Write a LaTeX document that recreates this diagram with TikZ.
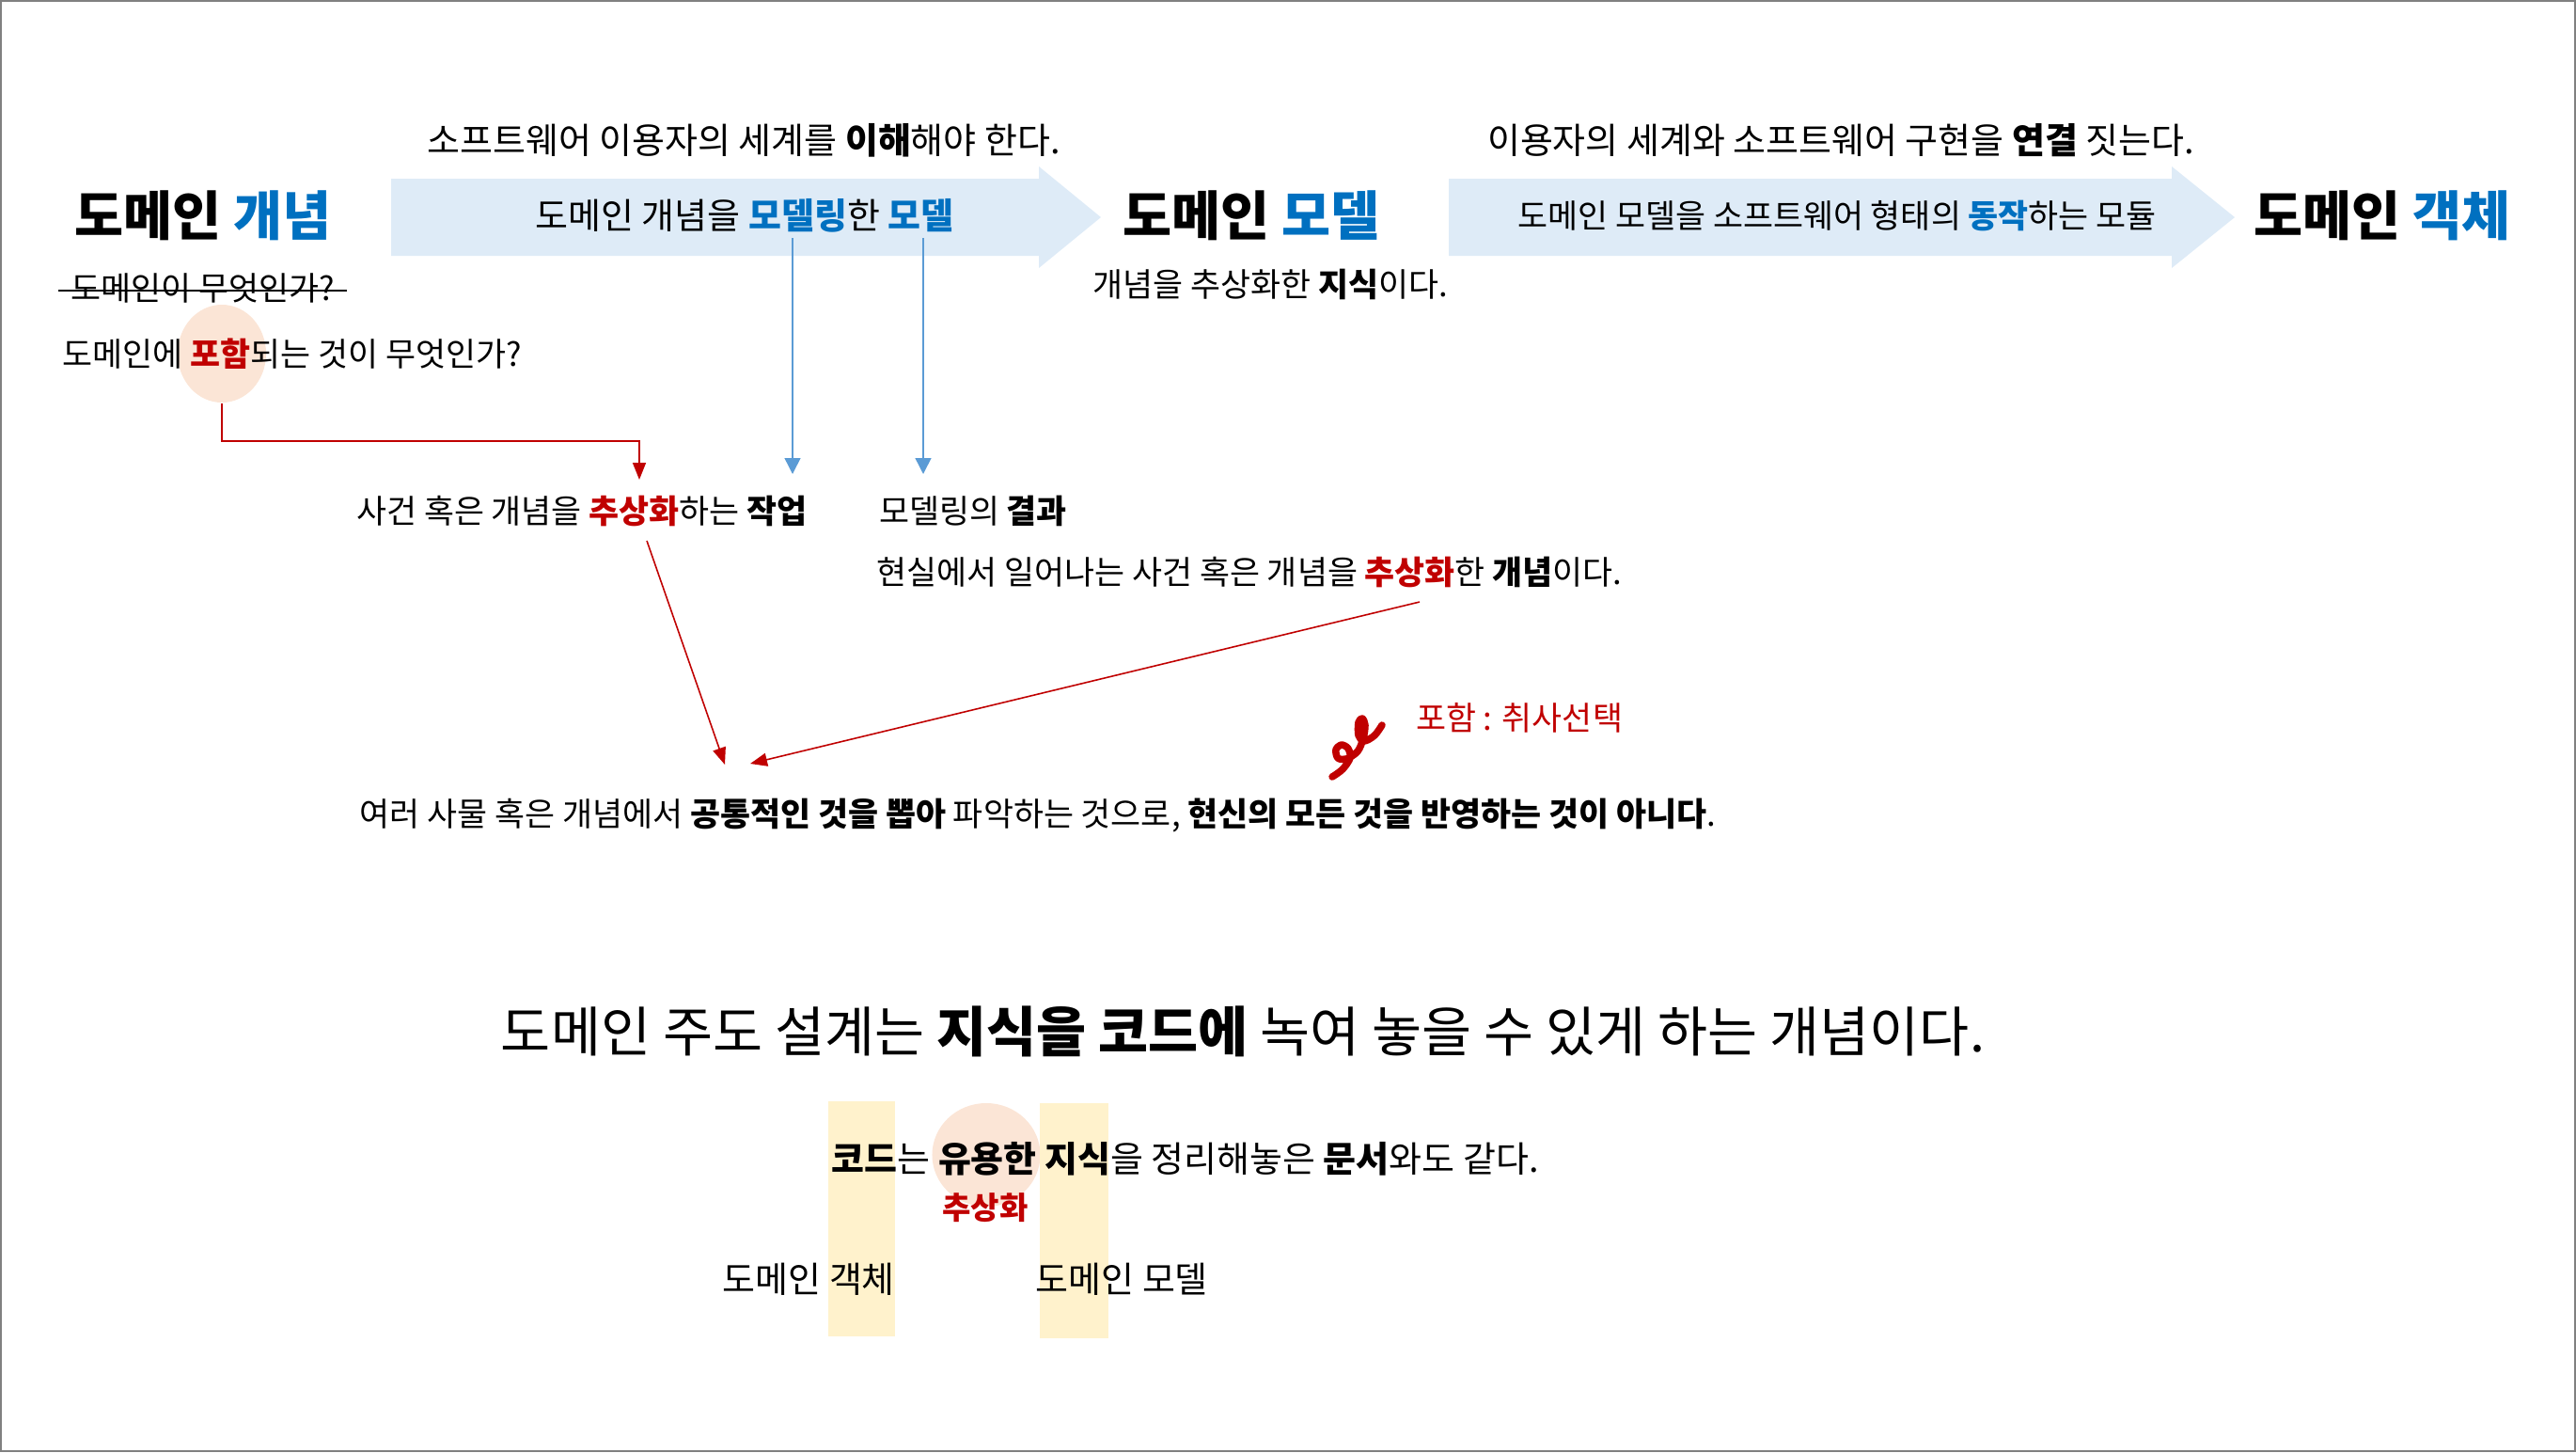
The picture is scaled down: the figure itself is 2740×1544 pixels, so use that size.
\documentclass[tikz,border=0pt]{standalone}
\usepackage{fontspec}
\setmainfont{Noto Sans CJK KR}
\usetikzlibrary{arrows.meta,shapes.geometric,calc}

\definecolor{dblue}{HTML}{0070C0}
\definecolor{dred}{HTML}{C00000}
\definecolor{abody}{HTML}{DEEBF7}
\definecolor{peach}{HTML}{FBE5D6}
\definecolor{ylw}{HTML}{FFF2CC}
\definecolor{lnblue}{HTML}{5B9BD5}

\newcommand{\hlblue}[1]{\textcolor{dblue}{\textbf{#1}}}
\newcommand{\hlred}[1]{\textcolor{dred}{\textbf{#1}}}

\tikzset{
  lbl/.style={font=\fontsize{9.9}{12}\selectfont, inner sep=0pt},
  captxt/.style={font=\fontsize{10.8}{13}\selectfont, inner sep=0pt},
  ttl/.style={font=\fontsize{16.1}{19}\selectfont\bfseries, inner sep=0pt},
  bigtxt/.style={font=\fontsize{16.4}{19}\selectfont, inner sep=0pt},
  barrow/.style={lnblue, line width=0.4pt, -{Triangle[length=0.17cm, width=0.17cm]}},
  rarrow/.style={dred, line width=0.45pt, -{Triangle[length=0.18cm, width=0.14cm]}},
}

\begin{document}
\begin{tikzpicture}[x=0.01cm, y=-0.01cm]
    \useasboundingbox (0,0) rectangle (2740,1544);
    \draw[gray, line width=0.02cm] (1,1) rectangle (2739,1543);

    % Fleches
    \fill[abody] (416,190) -- (1105,190) -- (1105,177) -- (1171,231)
        -- (1105,285) -- (1105,272) -- (416,272) -- cycle;
    \fill[abody] (1541,190) -- (2310,190) -- (2310,177) -- (2377,231)
        -- (2310,285) -- (2310,272) -- (1541,272) -- cycle;

    % Fonds
    \node[ellipse, fill=peach, minimum width=0.94cm, minimum height=1.04cm, inner sep=0pt] (incl) at (236,376) {};
    \node[ellipse, fill=peach, minimum width=1.15cm, minimum height=1.1cm, inner sep=0pt] (useful) at (1049,1228) {};
    \fill[ylw] (881,1171) rectangle (952,1421);
    \fill[ylw] (1106,1173) rectangle (1179,1423);

    % Titres
    \node[ttl] (concept) at (216,229) {도메인 \textcolor{dblue}{개념}};
    \node[ttl] (model) at (1331,229) {도메인 \textcolor{dblue}{모델}};
    \node[ttl] (object) at (2534,229) {도메인 \textcolor{dblue}{객체}};

    \node[captxt] (understand) at (791,149) {소프트웨어 이용자의 세계를 \textbf{이해}해야 한다.};
    \node[captxt] (connect) at (1958,149) {이용자의 세계와 소프트웨어 구현을 \textbf{연결} 짓는다.};
    \node[captxt] (modeling) at (792,229) {도메인 개념을 \hlblue{모델링}한 \hlblue{모델}};
    \node[lbl] (module) at (1954,229) {도메인 모델을 소프트웨어 형태의 \hlblue{동작}하는 모듈};

    % Textes
    \node[lbl] (strk) at (216,306) {도메인이 무엇인가?};
    \draw[line width=0.4pt] ($(strk.west)+(-13,3)$) -- ($(strk.east)+(12,3)$);
    \node[lbl, anchor=west] (question) at (66,376) {도메인에 \hlred{포함}되는 것이 무엇인가?};
    \node[lbl] (knowledge) at (1351,302) {개념을 추상화한 \textbf{지식}이다.};

    \node[lbl] (task) at (619,543) {사건 혹은 개념을 \hlred{추상화}하는 \textbf{작업}};
    \node[lbl] (result) at (1035,543) {모델링의 \textbf{결과}};
    \node[lbl] (reality) at (1329,608) {현실에서 일어나는 사건 혹은 개념을 \hlred{추상화}한 \textbf{개념}이다.};
    \node[lbl, text=dred] (choice) at (1616,763) {포함 : 취사선택};
    \node[lbl] (common) at (1104,867) {여러 사물 혹은 개념에서 \textbf{공통적인 것을 뽑아} 파악하는 것으로, \textbf{현신의 모든 것을 반영하는 것이 아니다}.};

    \node[bigtxt] (ddd) at (1322,1097) {도메인 주도 설계는 \textbf{지식을 코드에} 녹여 놓을 수 있게 하는 개념이다.};
    \node[captxt, anchor=west] (doc) at (884,1232) {\textbf{코드}는 \textbf{유용한} \textbf{지식}을 정리해놓은 \textbf{문서}와도 같다.};
    \node[lbl, font=\fontsize{9.4}{11}\selectfont] (abst) at (1048,1284) {\hlred{추상화}};
    \node[captxt, anchor=west] (dobj) at (768,1360) {도메인 객체};
    \node[captxt, anchor=west] (dmod) at (1101,1360) {도메인 모델};

    % Liens
    \coordinate (m1) at (843,253);
    \coordinate (m2) at (982,253);
    \coordinate (t1) at (680,510);
    \draw[barrow] (m1) -- (843,504);
    \draw[barrow] (m2) -- (982,504);
    \draw[rarrow] (incl.south) -- ++(0,40) -| (t1);

    \coordinate (a1) at (688,575);
    \coordinate (a2) at (1510,640);
    \draw[rarrow] (a1) -- (771,813);
    \draw[rarrow] (a2) -- (798,812);

    % Griffe
    \draw[dred, line width=0.075cm, line cap=round, line join=round]
        plot[smooth, tension=0.55] coordinates {(1417,826) (1428,818) (1436,806) (1434,796)
        (1427,792) (1421,797) (1423,806) (1432,807) (1444,799) (1450,785) (1452,771)
        (1449,764) (1445,768) (1445,782) (1451,788) (1462,782) (1470,771)};
\end{tikzpicture}
\end{document}
